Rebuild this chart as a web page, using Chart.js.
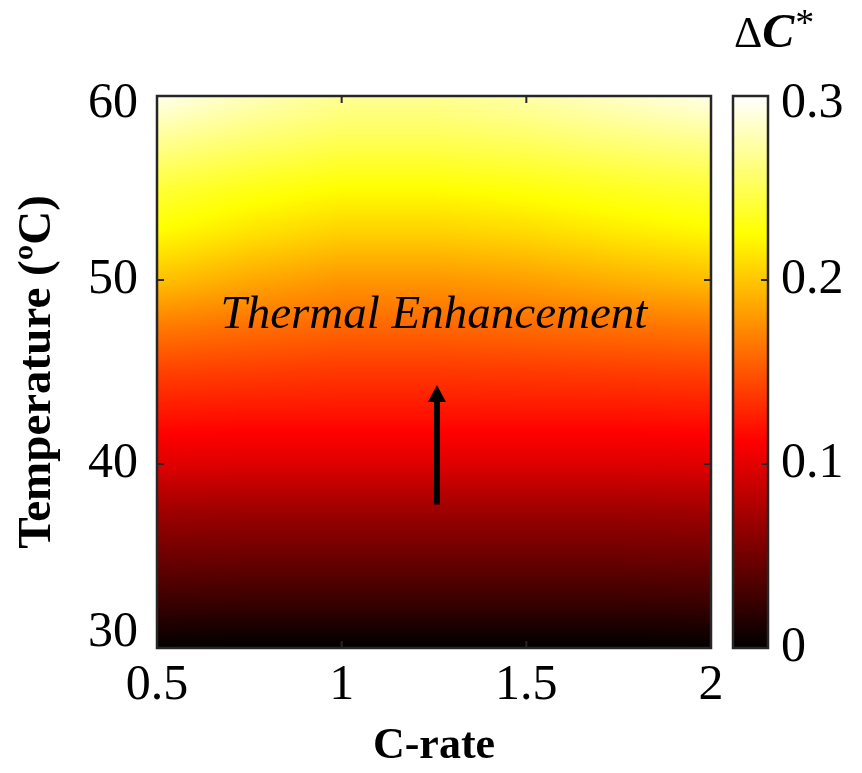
<!DOCTYPE html>
<html>
<head>
<meta charset="utf-8">
<script src="https://cdn.jsdelivr.net/npm/chart.js@4.4.1/dist/chart.umd.min.js"></script>
<style>
    html, body { margin: 0; padding: 0; background: #fff; }
    #wrap { width: 862px; height: 773px; position: relative; }
</style>
</head>
<body>
<div id="wrap"><canvas id="mapa"></canvas></div>
<script>
// Malla
const cRates = [0.5, 0.75, 1, 1.25, 1.5, 1.75, 2];
const temperaturas = [30, 32.5, 35, 37.5, 40, 42.5, 45, 47.5, 50, 52.5, 55, 57.5, 60];
// ΔC* : una fila por temperatura, una columna por C-rate
const deltaC = [
    [0.001, 0.000, 0.000, 0.000, 0.000, 0.000, 0.001],
    [0.026, 0.025, 0.025, 0.025, 0.025, 0.025, 0.026],
    [0.049, 0.048, 0.048, 0.048, 0.048, 0.048, 0.049],
    [0.071, 0.070, 0.070, 0.070, 0.070, 0.070, 0.071],
    [0.099, 0.098, 0.098, 0.098, 0.098, 0.098, 0.099],
    [0.120, 0.119, 0.119, 0.119, 0.119, 0.119, 0.120],
    [0.141, 0.139, 0.137, 0.137, 0.138, 0.139, 0.141],
    [0.167, 0.162, 0.158, 0.158, 0.160, 0.163, 0.166],
    [0.198, 0.187, 0.179, 0.179, 0.183, 0.190, 0.196],
    [0.223, 0.212, 0.204, 0.204, 0.208, 0.215, 0.221],
    [0.242, 0.232, 0.225, 0.225, 0.229, 0.235, 0.241],
    [0.268, 0.257, 0.249, 0.249, 0.253, 0.260, 0.266],
    [0.295, 0.280, 0.269, 0.269, 0.275, 0.284, 0.293]
];
const ticksX = [0.5, 1, 1.5, 2];
const ticksY = [30, 40, 50, 60];
const ticksBarra = [0, 0.1, 0.2, 0.3];
const etiquetasBarra = ['0', '0.1', '0.2', '0.3'];
const textoAnotacion = 'Thermal Enhancement';
const posTexto = { x: 1.25, y: 47.4 };
const flecha = { x: 1.258, desde: 37.8, hasta: 44.3 };

const FUENTE = "'Liberation Serif', 'Times New Roman', serif";

// mapa de color "hot" de MATLAB
function hot(n) {
    n = Math.max(0, Math.min(1, n));
    const r = Math.min(1, n / 0.375);
    const g = Math.max(0, Math.min(1, (n - 0.375) / 0.375));
    const b = Math.max(0, Math.min(1, (n - 0.75) / 0.25));
    return [Math.round(r * 255), Math.round(g * 255), Math.round(b * 255)];
}

function buscarIntervalo(arr, v) {
    let i = 0;
    while (i < arr.length - 2 && v > arr[i + 1]) i++;
    const t = Math.max(0, Math.min(1, (v - arr[i]) / (arr[i + 1] - arr[i])));
    return [i, t];
}

function valorEn(x, y) {
    const [i, tx] = buscarIntervalo(cRates, x);
    const [j, ty] = buscarIntervalo(temperaturas, y);
    const a = deltaC[j][i], b = deltaC[j][i + 1];
    const c = deltaC[j + 1][i], d = deltaC[j + 1][i + 1];
    return (a * (1 - tx) + b * tx) * (1 - ty) + (c * (1 - tx) + d * tx) * ty;
}

const pluginMapa = {
    id: 'mapa',
    beforeDatasetsDraw(chart) {
        const { ctx, chartArea: area, scales } = chart;
        const cb = scales.cb;
        const w = Math.round(area.right - area.left);
        const h = Math.round(area.bottom - area.top);
        const img = ctx.createImageData(w, h);
        const xs = [], ys = [];
        for (let px = 0; px < w; px++) xs.push(scales.x.getValueForPixel(area.left + px + 0.5));
        for (let py = 0; py < h; py++) ys.push(scales.y.getValueForPixel(area.top + py + 0.5));
        const rango = cb.max - cb.min;
        for (let py = 0; py < h; py++) {
            for (let px = 0; px < w; px++) {
                const v = valorEn(xs[px], ys[py]);
                const [r, g, b] = hot((v - cb.min) / rango);
                const k = (py * w + px) * 4;
                img.data[k] = r; img.data[k + 1] = g; img.data[k + 2] = b; img.data[k + 3] = 255;
            }
        }
        ctx.putImageData(img, Math.round(area.left), Math.round(area.top));
    },
    afterDraw(chart) {
        const { ctx, chartArea: area, scales } = chart;
        const cb = scales.cb;
        const tick = 7;
        ctx.save();

        // barra de color
        const barX = area.right + 22, barW = 35;
        for (let py = Math.floor(area.top); py < area.bottom; py++) {
            const v = cb.getValueForPixel(py + 0.5);
            const [r, g, b] = hot((v - cb.min) / (cb.max - cb.min));
            ctx.fillStyle = `rgb(${r},${g},${b})`;
            ctx.fillRect(barX, py, barW, 1);
        }

        // marcos
        ctx.strokeStyle = '#262626';
        ctx.lineWidth = 2.5;
        ctx.strokeRect(area.left, area.top, area.right - area.left, area.bottom - area.top);
        ctx.strokeRect(barX, area.top, barW, area.bottom - area.top);

        // marcas hacia dentro
        ctx.lineWidth = 2;
        ctx.beginPath();
        ticksX.forEach(v => {
            const px = scales.x.getPixelForValue(v);
            ctx.moveTo(px, area.bottom); ctx.lineTo(px, area.bottom - tick);
            ctx.moveTo(px, area.top); ctx.lineTo(px, area.top + tick);
        });
        ticksY.forEach(v => {
            const py = scales.y.getPixelForValue(v);
            ctx.moveTo(area.left, py); ctx.lineTo(area.left + tick, py);
            ctx.moveTo(area.right, py); ctx.lineTo(area.right - tick, py);
        });
        ticksBarra.forEach(v => {
            const py = cb.getPixelForValue(v);
            ctx.moveTo(barX + barW, py); ctx.lineTo(barX + barW - tick, py);
        });
        ctx.stroke();

        // etiquetas del eje Y (las de los extremos van un poco hacia dentro)
        ctx.fillStyle = '#000';
        ctx.font = `50px ${FUENTE}`;
        ctx.textAlign = 'right';
        ctx.textBaseline = 'middle';
        ticksY.forEach(v => {
            let py = scales.y.getPixelForValue(v);
            if (v === scales.y.max) py += 8;
            if (v === scales.y.min) py -= 15;
            ctx.fillText(String(v), area.left - 19, py);
        });

        // etiquetas de la barra
        ctx.textAlign = 'left';
        ticksBarra.forEach((v, i) => {
            let py = cb.getPixelForValue(v);
            if (v === cb.max) py += 8;
            ctx.fillText(etiquetasBarra[i], barX + barW + 13, py);
        });

        // título de la barra: ΔC*
        ctx.textBaseline = 'alphabetic';
        let tx = barX + 1;
        const base = 47;
        ctx.font = `44px ${FUENTE}`;
        ctx.fillText('Δ', tx, base);
        tx += ctx.measureText('Δ').width;
        ctx.font = `italic bold 48px ${FUENTE}`;
        ctx.fillText('C', tx, base);
        tx += ctx.measureText('C').width + 1;
        ctx.font = `38px ${FUENTE}`;
        ctx.fillText('*', tx, base - 12);

        // anotación y flecha
        ctx.font = `italic 47px ${FUENTE}`;
        ctx.textAlign = 'center';
        ctx.fillText(textoAnotacion, scales.x.getPixelForValue(posTexto.x), scales.y.getPixelForValue(posTexto.y));

        const fx = scales.x.getPixelForValue(flecha.x);
        const y0 = scales.y.getPixelForValue(flecha.desde);
        const y1 = scales.y.getPixelForValue(flecha.hasta);
        ctx.strokeStyle = '#000';
        ctx.lineWidth = 6;
        ctx.beginPath();
        ctx.moveTo(fx, y0); ctx.lineTo(fx, y1 + 14);
        ctx.stroke();
        ctx.fillStyle = '#000';
        ctx.beginPath();
        ctx.moveTo(fx, y1);
        ctx.lineTo(fx - 9, y1 + 17);
        ctx.lineTo(fx + 9, y1 + 17);
        ctx.closePath();
        ctx.fill();

        ctx.restore();
    }
};

const puntos = [];
temperaturas.forEach((t, j) => cRates.forEach((c, i) => puntos.push({ x: c, y: t, v: deltaC[j][i] })));

new Chart(document.getElementById('mapa'), {
    type: 'scatter',
    data: {
        datasets: [{ label: 'ΔC*', data: puntos, pointRadius: 0, pointHoverRadius: 0 }]
    },
    options: {
        responsive: true,
        maintainAspectRatio: false,
        animation: false,
        layout: { padding: { top: 96, right: 151, left: 0, bottom: 0 } },
        plugins: { legend: { display: false }, tooltip: { enabled: false } },
        scales: {
            x: {
                type: 'linear', min: 0.5, max: 2,
                afterBuildTicks: s => { s.ticks = ticksX.map(v => ({ value: v })); },
                afterFit: s => { s.height = 125; },
                grid: { display: false, drawTicks: false },
                border: { display: false },
                ticks: { color: '#000', padding: 8, font: { family: FUENTE, size: 50 }, callback: v => String(v) },
                title: { display: true, text: 'C-rate', color: '#000', padding: { top: 0, bottom: 0 },
                         font: { family: FUENTE, size: 44, weight: 'bold' } }
            },
            y: {
                type: 'linear', min: 30, max: 60,
                afterBuildTicks: s => { s.ticks = ticksY.map(v => ({ value: v })); },
                afterFit: s => { s.width = 157; },
                grid: { display: false, drawTicks: false },
                border: { display: false },
                ticks: { display: false },
                title: { display: true, text: 'Temperature (ºC)', color: '#000', padding: { top: 10, bottom: 0 },
                         font: { family: FUENTE, size: 47, weight: 'bold' } }
            },
            cb: { type: 'linear', display: false, position: 'right', min: 0, max: 0.3 }
        }
    },
    plugins: [pluginMapa]
});
</script>
</body>
</html>
